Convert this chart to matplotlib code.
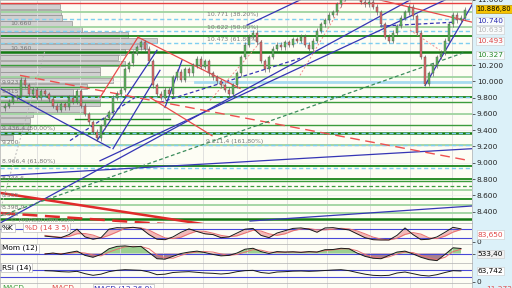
import numpy as np
import matplotlib
matplotlib.use("Agg")
import matplotlib.pyplot as plt

# ---- closes per bar (index points, thousands) ----
closes = [9.70, 9.75, 9.80, 9.82, 10.02, 9.95, 9.85, 9.90, 9.80, 9.88,
          9.84, 9.78, 9.70, 9.65, 9.72, 9.68, 9.80, 9.75, 9.88, 9.70,
          9.60, 9.50, 9.38, 9.30, 9.45, 9.55, 9.62, 9.80, 9.85, 9.90,
          10.15, 10.22, 10.35, 10.42, 10.48, 10.40, 10.25, 9.95, 9.85, 9.80,
          9.90, 9.85, 10.05, 10.12, 10.02, 10.15, 10.10, 10.20, 10.28, 10.18,
          10.25, 10.10, 10.05, 10.00, 9.95, 9.90, 9.85, 9.95, 10.10, 10.30,
          10.45, 10.55, 10.60, 10.48, 10.25, 10.15, 10.30, 10.40, 10.45, 10.42,
          10.48, 10.45, 10.52, 10.50, 10.55, 10.45, 10.40, 10.50, 10.62, 10.70,
          10.75, 10.82, 10.85, 10.95, 11.02, 11.05, 11.08, 11.06, 11.05, 10.98,
          10.95, 10.98, 10.92, 10.85, 10.70, 10.55, 10.50, 10.60, 10.68, 10.78,
          10.85, 10.92, 10.80, 10.60, 10.30, 9.97, 10.10, 10.20, 10.30, 10.35,
          10.50, 10.70, 10.82, 10.75, 10.78, 10.88]

# indicators, sampled every 2nd bar from bar 10
stoch_k = [35, 30, 25, 45, 80, 30, 15, 25, 80, 90, 88, 92, 85, 45, 15, 12, 30, 60, 82, 65,
           50, 45, 25, 30, 55, 80, 85, 40, 25, 55, 70, 85, 88, 80, 60, 88, 90, 82, 75, 50,
           25, 12, 10, 10, 40, 88, 45, 12, 15, 30, 60, 92, 82]
stoch_d = [40, 33, 28, 33, 50, 52, 42, 23, 40, 62, 86, 90, 88, 74, 48, 24, 19, 28, 50, 68,
           66, 54, 40, 32, 37, 55, 73, 68, 50, 40, 50, 70, 81, 84, 76, 76, 79, 86, 82, 69,
           50, 29, 16, 11, 21, 46, 58, 48, 24, 19, 35, 61, 78]
mom = [-50, 50, -80, 100, 250, -200, -400, -100, 500, 750, 800, 700, 750, 100, -550, -600, -300, 0, 150, 250,
       100, -100, -250, -200, 50, 450, 550, 200, 0, 200, 150, 180, 120, 200, 150, 400, 420, 550, 500, 50,
       -300, -500, -550, -200, 150, 250, -50, -400, -650, -750, -100, 600, 530]
mom_sig = [-20, 10, 0, 20, 120, 50, -150, -250, 150, 450, 700, 750, 730, 500, -150, -450, -500, -200, 50, 150,
           200, 150, -50, -200, -100, 150, 400, 350, 150, 120, 150, 160, 140, 170, 160, 300, 380, 480, 500, 300,
           -100, -350, -500, -350, -50, 150, 100, -200, -450, -650, -400, 200, 450]
rsi = [66, 64, 60, 58, 62, 48, 38, 45, 60, 68, 72, 70, 68, 58, 42, 45, 55, 58, 60, 56,
       52, 50, 46, 50, 60, 66, 68, 55, 50, 58, 60, 63, 64, 62, 64, 67, 70, 72, 66, 55,
       45, 38, 36, 38, 52, 58, 48, 38, 34, 42, 55, 66, 64]

# volume profile (bin centre price, relative volume)
prof_price = [10.92, 10.85, 10.78, 10.71, 10.64, 10.57, 10.50, 10.43, 10.36, 10.29, 10.22, 10.15,
              10.08, 10.01, 9.94, 9.87, 9.80, 9.73, 9.66, 9.59, 9.52, 9.45, 9.38, 9.31]
prof_vol = [60, 61, 62, 72, 82, 128, 157, 147, 125, 118, 125, 100,
            100, 113, 87, 73, 100, 100, 85, 33, 30, 30, 30, 13]

# horizontal support / resistance levels
lvl_price = [10.85, 10.67, 10.56, 10.36, 10.20, 10.06, 9.93, 9.81, 9.75, 9.60, 9.47, 9.36,
             9.22, 8.96, 8.80, 8.77, 8.72, 8.67, 8.56, 8.48, 8.38, 8.31]
lvl_kind = ["l", "l", "d", "D", "m", "l", "m", "d", "m", "l", "m", "D",
            "l", "d", "d", "m", "dash", "l", "d", "l", "l", "D"]
fib_price = [10.771, 10.622, 10.473, 9.81, 9.37, 9.22, 8.93]

# trend lines: (bar0, price0, bar1, price1)
blue_lines = [(-1.25, 9.914, 26.25, 9.185), (-1.25, 8.259, 101.25, 11.0), (23.75, 9.025, 110.0, 11.0),
              (23.0, 9.272, 38.0, 10.383), (27.0, 9.173, 38.75, 10.136), (40.0, 9.679, 44.25, 10.259),
              (60.5, 10.691, 73.75, 11.0), (105.0, 9.951, 116.75, 10.938),
              (-1.25, 8.840, 116.75, 9.173), (61.25, 8.284, 116.75, 8.469)]
blue_dashed = [(16.25, 9.272, 32.5, 9.802), (38.75, 9.741, 73.75, 10.284), (93.75, 10.679, 112.5, 10.728)]
red_lines = [(23.75, 9.802, 33.25, 10.543), (33.25, 10.543, 58.75, 9.914), (36.25, 9.802, 51.75, 9.333),
             (93.75, 11.0, 116.75, 10.728)]
red_thick = (-1.25, 8.630, 49.5, 8.247)
red_thick_dashed = (-1.25, 8.383, 40.0, 8.247)
red_dashed = (3.75, 10.074, 116.25, 9.025)
red_dotted = [(51.25, 9.765, 64.25, 10.506), (73.75, 10.074, 85.0, 11.0), (101.25, 10.63, 108.75, 10.383)]
green_dashed = (-1.25, 8.346, 115.0, 10.358)
grey_dotted = (-1.25, 8.407, 10.0, 10.383)

last_price = 10.8868
right_marks = [(10.740, "10.740", "#2a2ab0"), (10.633, "10.633", "#b8b8b8"),
               (10.493, "10.493", "#e04848"), (10.327, "10.327", "#2a8a2a")]
grid_bars = [8, 18.75, 28.75, 39.5, 49.5, 60.5, 70.5, 80.5, 91.25, 101.25, 111.75]

BG = "#fdfdf4"
W, H = 512, 288
fig = plt.figure(figsize=(5.12, 2.88), dpi=100, facecolor="#dcf1f9")
def box(top, bot):
    return [0, 1 - bot / H, 472 / W, (bot - top) / H]
ax = fig.add_axes(box(0, 223))
axs = fig.add_axes(box(223, 244), sharex=ax)
axm = fig.add_axes(box(244, 263), sharex=ax)
axr = fig.add_axes(box(263, 283), sharex=ax)
axb = fig.add_axes(box(283, 288), sharex=ax)

for a in (ax, axs, axm, axr, axb):
    a.set_facecolor(BG)
    for s in a.spines.values():
        s.set_color("#b0b0b0"); s.set_linewidth(0.5)
    a.set_xticks(grid_bars)
    a.grid(axis="x", color="#dcdcdc", lw=0.6)
    a.tick_params(axis="x", length=0, labelbottom=False)
    a.yaxis.tick_right()
    a.tick_params(axis="y", labelsize=5.3, length=2, pad=1.5, colors="#222222", width=0.5)
ax.set_xlim(-1.25, 116.75)

# ---- main price panel ----
ax.set_ylim(8.26, 11.0)
yt = [8.4, 8.6, 8.8, 9.0, 9.2, 9.4, 9.6, 9.8, 10.0, 10.2, 11.0]
ax.set_yticks(yt); ax.set_yticklabels([f"{v:.3f}" for v in yt])
ax.grid(axis="y", color="#ececec", lw=0.5)

ax.barh(prof_price, np.array(prof_vol) / 4, height=0.064, left=-1.25, color="#cdcdcd",
        edgecolor="#8c8c8c", lw=0.5, alpha=0.92, zorder=1.5)

styles = {"l": dict(color="#9fd49f", lw=1.3), "m": dict(color="#3c9c3c", lw=1.0),
          "d": dict(color="#1a851a", lw=1.3), "D": dict(color="#147a14", lw=1.8),
          "dash": dict(color="#3c9c3c", lw=0.9, ls=(0, (3, 2)))}
for p, k in zip(lvl_price, lvl_kind):
    ax.axhline(p, zorder=2, **styles[k])
for p in fib_price:
    ax.axhline(p, color="#7fcff0", lw=1.0, ls=(0, (3, 2)), zorder=2)
ax.axhline(10.963, color="#e84040", lw=1.0, zorder=2)
ax.plot([17.5, 41.25], [9.543, 9.543], color="#1a851a", lw=1.0, zorder=2)
ax.plot([47.5, 116.75], [9.99, 9.99], color="#a8dcf0", lw=2.0, zorder=2)

for x0, y0, x1, y1 in blue_lines:
    ax.plot([x0, x1], [y0, y1], color="#3535b5", lw=0.9, zorder=2.5)
for x0, y0, x1, y1 in blue_dashed:
    ax.plot([x0, x1], [y0, y1], color="#3535b5", lw=0.9, ls=(0, (3, 2)), zorder=2.5)
for x0, y0, x1, y1 in red_lines:
    ax.plot([x0, x1], [y0, y1], color="#e84a4a", lw=0.9, zorder=2.5)
for x0, y0, x1, y1 in red_dotted:
    ax.plot([x0, x1], [y0, y1], color="#f08a8a", lw=0.7, ls=(0, (2, 2)), zorder=2.5)
x0, y0, x1, y1 = red_thick
ax.plot([x0, x1], [y0, y1], color="#e02a2a", lw=1.8, zorder=2.5)
x0, y0, x1, y1 = red_thick_dashed
ax.plot([x0, x1], [y0, y1], color="#e02a2a", lw=1.8, ls=(0, (6, 3)), zorder=2.5)
x0, y0, x1, y1 = red_dashed
ax.plot([x0, x1], [y0, y1], color="#ee5050", lw=1.0, ls=(0, (7, 4)), zorder=2.5)
x0, y0, x1, y1 = green_dashed
ax.plot([x0, x1], [y0, y1], color="#3c8c5c", lw=0.9, ls=(0, (3, 2)), zorder=2.5)
x0, y0, x1, y1 = grey_dotted
ax.plot([x0, x1], [y0, y1], color="#b8b8b8", lw=0.7, ls=(0, (2, 2)), zorder=2.5)

# candles
c = np.array(closes)
xi = np.arange(len(c))
o = np.r_[c[0] - 0.03, c[:-1]]
up = c >= o
ax.vlines(xi, np.minimum(o, c) - 0.03, np.maximum(o, c) + 0.03, color="#666666", lw=0.5, zorder=3)
ax.bar(xi, np.maximum(np.abs(c - o), 0.012), bottom=np.minimum(o, c), width=0.58,
       color=np.where(up, "#5cb85c", "#e06868"), edgecolor="#505050", lw=0.3, zorder=4)

# labels inside main panel
small = dict(fontsize=4.4, color="#7a7a7a", zorder=5)
for p, t in [(10.827, "10.771 (38.20%)"), (10.667, "10.622 (50.00%)"), (10.519, "10.473 (61.80%)")]:
    ax.text(50.5, p, t, va="center", **small)
ax.text(50.25, 9.259, "9.211,4 (161,80%)", va="center", **small)
for xx, p, t in [(1.25, 10.716, "10.660"), (1.25, 10.407, "10.360"), (-0.75, 9.988, "9.923"),
                 (-0.75, 9.877, "9.815"), (-0.75, 9.42, "9.436,4 (50,00%)"), (-0.75, 9.247, "9.200"),
                 (-0.75, 9.012, "8.966,4 (61,80%)"), (-0.75, 8.815, "8.744,6"), (-0.75, 8.593, "8.555"),
                 (-0.75, 8.457, "8.398,9"), (-0.75, 8.37, "8.300")]:
    ax.text(xx, p, t, va="center", **small)
ax.text(1.25, 8.296, "© ProRealTime.com", va="center", fontsize=4.6, color="#9a9a9a", zorder=5)

yt_tr = ax.get_yaxis_transform()
ax.text(1.01, last_price, "10.886,80", transform=yt_tr, va="center", fontsize=4.9, clip_on=False,
        bbox=dict(boxstyle="square,pad=0.12", fc="#f5c400", ec="#c09000", lw=0.5))
for p, t, col in right_marks:
    ax.text(1.01, p, t, transform=yt_tr, va="center", fontsize=5.3, color=col, clip_on=False,
            bbox=dict(boxstyle="square,pad=0.15", fc="#f8fbfc", ec="#c8c8c8", lw=0.4))

# ---- stochastic ----
ind_x = 10 + 2 * np.arange(len(stoch_k))
axs.set_ylim(-16, 120)
axs.axhline(80, color="#4848d8", lw=0.8); axs.axhline(20, color="#4848d8", lw=0.8)
axs.fill_between(ind_x, stoch_k, stoch_d, color="#f2a8a8", alpha=0.8, lw=0)
axs.plot(ind_x, stoch_d, color="#e87070", lw=0.7)
axs.plot(ind_x, stoch_k, color="#1a1a1a", lw=0.7)
axs.set_yticks([0]); axs.set_yticklabels(["0"])
hb = dict(boxstyle="square,pad=0.15", fc="white", ec="#b0b0b0", lw=0.4)
axs.text(0.004, 0.78, "%K", transform=axs.transAxes, fontsize=5.3, va="center", bbox=hb)
axs.text(0.052, 0.78, "%D (14 3 5)", transform=axs.transAxes, fontsize=5.3, va="center", color="#e04848", bbox=hb)
axs.text(1.012, 0.45, "83,650", transform=axs.transAxes, fontsize=5.3, va="center", color="#e04848",
         clip_on=False, bbox=dict(boxstyle="square,pad=0.15", fc="white", ec="#c8c8c8", lw=0.4))

# ---- momentum ----
axm.set_ylim(-1000, 1000)
m = np.array(mom, dtype=float)
axm.fill_between(ind_x, m, 0, where=m >= 0, interpolate=True, color="#9ccf8f", lw=0)
axm.fill_between(ind_x, m, 0, where=m < 0, interpolate=True, color="#a8808e", lw=0)
axm.axhline(0, color="#4848d8", lw=0.8)
axm.plot(ind_x, mom_sig, color="#e87070", lw=0.7)
axm.plot(ind_x, mom, color="#1a1a1a", lw=0.7)
axm.set_yticks([0]); axm.set_yticklabels([""])
axm.text(0.004, 0.78, "Mom (12)", transform=axm.transAxes, fontsize=5.3, va="center", bbox=hb)
axm.text(1.012, 0.47, "533,40", transform=axm.transAxes, fontsize=5.3, va="center", clip_on=False,
         bbox=dict(boxstyle="square,pad=0.15", fc="#f0f0f0", ec="#c8c8c8", lw=0.4))

# ---- RSI ----
axr.set_ylim(-8, 112)
axr.axhline(70, color="#4848d8", lw=0.8); axr.axhline(30, color="#4848d8", lw=0.8)
axr.plot(ind_x, rsi, color="#1a1a1a", lw=0.7)
axr.set_yticks([0]); axr.set_yticklabels(["0"])
axr.text(0.004, 0.78, "RSI (14)", transform=axr.transAxes, fontsize=5.3, va="center", bbox=hb)
axr.text(1.012, 0.6, "63,742", transform=axr.transAxes, fontsize=5.3, va="center", clip_on=False,
         bbox=dict(boxstyle="square,pad=0.15", fc="white", ec="#c8c8c8", lw=0.4))

# ---- cut-off MACD strip (only the top of its header shows) ----
axb.set_yticks([])
axb.text(0.004, 0.55, "MACD", transform=axb.transAxes, fontsize=5.3, color="#3c9c3c", va="top")
axb.text(0.1, 0.55, "- MACD", transform=axb.transAxes, fontsize=5.3, color="#e04848", va="top")
axb.text(0.2, 0.55, "MACD (12 26 9)", transform=axb.transAxes, fontsize=5.3, color="#2a2ab0", va="top",
         bbox=dict(boxstyle="square,pad=0.15", fc="white", ec="#b0b0b0", lw=0.4))
axb.text(1.03, 0.4, "11,272", transform=axb.transAxes, fontsize=5.3, color="#e04848", va="top", clip_on=False)

fig.savefig("out.png", dpi=100, facecolor=fig.get_facecolor())
